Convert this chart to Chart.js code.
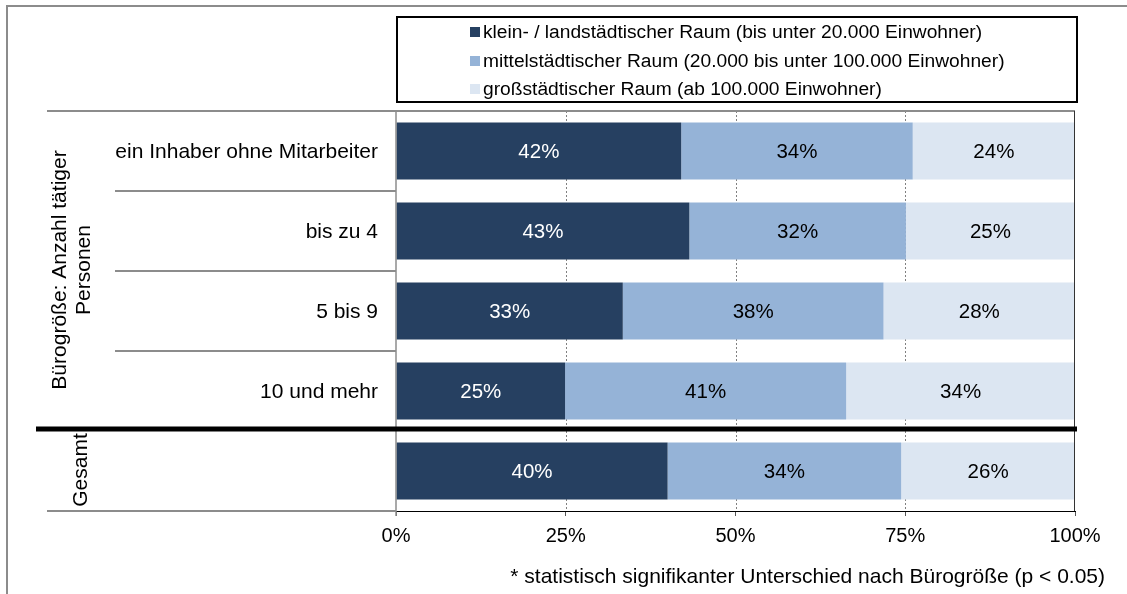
<!DOCTYPE html>
<html>
<head>
<meta charset="utf-8">
<script src="https://cdn.jsdelivr.net/npm/chart.js@4/dist/chart.umd.min.js"></script>
<style>
  html, body { margin: 0; padding: 0; background: #fff; }
  #wrap { width: 1127px; height: 594px; }
</style>
</head>
<body>
<div id="wrap"><canvas id="chart" width="1127" height="594"></canvas></div>
<script>
const categories = ['ein Inhaber ohne Mitarbeiter', 'bis zu 4', '5 bis 9', '10 und mehr', ''];
const seriesNames = [
  'klein- / landstädtischer Raum (bis unter 20.000 Einwohner)',
  'mittelstädtischer Raum (20.000 bis unter 100.000 Einwohner)',
  'großstädtischer Raum (ab 100.000 Einwohner)'
];
const smallTown = [42.0, 43.2, 33.4, 24.9, 40.0];
const midTown = [34.1, 31.9, 38.4, 41.4, 34.4];
const bigCity = [23.9, 24.9, 28.2, 33.7, 25.6];
const xTicks = [0, 25, 50, 75, 100];
const groupTitle = ['Bürogröße: Anzahl tätiger', 'Personen'];
const totalTitle = 'Gesamt';
const footnote = '* statistisch signifikanter Unterschied nach Bürogröße (p < 0.05)';

const colors = ['#264061', '#95b3d7', '#dce6f2'];
const labelColors = ['#ffffff', '#000000', '#000000'];
const FONT = '"Liberation Sans", Arial, sans-serif';

// grid lines, borders, legend, labels
const decor = {
  id: 'decor',
  beforeDatasetsDraw(chart) {
    const ctx = chart.ctx, x = chart.scales.x, a = chart.chartArea;
    ctx.save();
    ctx.strokeStyle = '#808080';
    ctx.lineWidth = 1;
    ctx.setLineDash([2, 2]);
    [25, 50, 75].forEach(v => {
      const px = Math.round(x.getPixelForValue(v)) + 0.5;
      ctx.beginPath(); ctx.moveTo(px, a.top); ctx.lineTo(px, a.bottom); ctx.stroke();
    });
    ctx.restore();
  },
  afterDraw(chart) {
    const ctx = chart.ctx, x = chart.scales.x, y = chart.scales.y, a = chart.chartArea;
    ctx.save();

    // outer frame (left + top)
    ctx.strokeStyle = '#8c8c8c';
    ctx.lineWidth = 2;
    ctx.beginPath(); ctx.moveTo(7, 594); ctx.lineTo(7, 6); ctx.lineTo(1127, 6); ctx.stroke();

    // category separators
    const rowH = y.getPixelForValue(1) - y.getPixelForValue(0);
    ctx.strokeStyle = '#8c8c8c';
    ctx.lineWidth = 2;
    ctx.beginPath();
    ctx.moveTo(47, a.top); ctx.lineTo(a.right, a.top);
    for (let i = 1; i < 4; i++) {
      const py = y.getPixelForValue(i) - rowH / 2;
      ctx.moveTo(115, py); ctx.lineTo(a.left, py);
    }
    ctx.moveTo(47, a.bottom); ctx.lineTo(a.left, a.bottom);
    ctx.stroke();

    ctx.lineWidth = 1.5;
    ctx.beginPath(); ctx.moveTo(a.left, a.top); ctx.lineTo(a.left, a.bottom + 5); ctx.stroke();

    ctx.strokeStyle = '#333';
    ctx.lineWidth = 1;
    const rx = Math.round(a.right) - 0.5;
    ctx.beginPath(); ctx.moveTo(rx, a.top); ctx.lineTo(rx, a.bottom); ctx.stroke();

    // thick line before Gesamt
    const sepY = y.getPixelForValue(4) - rowH / 2 - 2;
    ctx.strokeStyle = '#000';
    ctx.lineWidth = 5;
    ctx.beginPath(); ctx.moveTo(36, sepY); ctx.lineTo(a.right + 2, sepY); ctx.stroke();

    // category labels
    ctx.fillStyle = '#000';
    ctx.font = '21px ' + FONT;
    ctx.textAlign = 'right';
    ctx.textBaseline = 'middle';
    categories.forEach((c, i) => ctx.fillText(c, 378, y.getPixelForValue(i) + 1));

    // rotated group titles
    const gMid = (a.top + sepY) / 2;
    ctx.textAlign = 'center';
    ctx.save();
    ctx.translate(60, gMid); ctx.rotate(-Math.PI / 2);
    ctx.fillText(groupTitle[0], 0, 0);
    ctx.restore();
    ctx.save();
    ctx.translate(84, gMid); ctx.rotate(-Math.PI / 2);
    ctx.fillText(groupTitle[1], 0, 0);
    ctx.restore();
    ctx.save();
    ctx.translate(81, (sepY + a.bottom) / 2); ctx.rotate(-Math.PI / 2);
    ctx.fillText(totalTitle, 0, 0);
    ctx.restore();

    // value labels
    ctx.font = '20.5px ' + FONT;
    ctx.textAlign = 'center';
    chart.data.datasets.forEach((ds, di) => {
      const meta = chart.getDatasetMeta(di);
      ctx.fillStyle = labelColors[di];
      meta.data.forEach((bar, i) => {
        const cx = (bar.x + bar.base) / 2;
        ctx.fillText(Math.round(ds.data[i]) + '%', cx, bar.y + 1);
      });
    });

    // legend
    ctx.strokeStyle = '#000';
    ctx.lineWidth = 2;
    ctx.strokeRect(397, 17, 680, 85);
    ctx.font = '19.2px ' + FONT;
    ctx.textAlign = 'left';
    const rows = [32, 61, 89];
    chart.data.datasets.forEach((ds, di) => {
      ctx.fillStyle = colors[di];
      ctx.fillRect(470, rows[di] - 5, 10, 10);
      ctx.fillStyle = '#000';
      ctx.fillText(ds.label, 483, rows[di] + 1);
    });

    // footnote
    ctx.font = '21px ' + FONT;
    ctx.textAlign = 'right';
    ctx.fillText(footnote, 1105, 577);
    ctx.restore();
  }
};

new Chart(document.getElementById('chart'), {
  type: 'bar',
  data: {
    labels: categories,
    datasets: [
      { label: seriesNames[0], data: smallTown, backgroundColor: colors[0] },
      { label: seriesNames[1], data: midTown, backgroundColor: colors[1] },
      { label: seriesNames[2], data: bigCity, backgroundColor: colors[2] }
    ]
  },
  options: {
    indexAxis: 'y',
    responsive: false,
    devicePixelRatio: 1,
    animation: false,
    categoryPercentage: 1,
    barPercentage: 0.71,
    layout: { padding: { left: 396, right: 52, top: 111, bottom: 0 } },
    plugins: { legend: { display: false }, tooltip: { enabled: false } },
    scales: {
      y: { stacked: true, display: false },
      x: {
        stacked: true,
        min: 0,
        max: 100,
        afterBuildTicks: s => { s.ticks = xTicks.map(v => ({ value: v })); },
        afterFit: s => { s.height = 83; },
        border: { color: '#000', width: 1 },
        grid: { drawOnChartArea: false, drawTicks: true, tickLength: 5, color: '#555' },
        ticks: {
          padding: 8,
          color: '#000',
          font: { size: 20, family: FONT },
          maxRotation: 0,
          callback: v => v + '%'
        }
      }
    }
  },
  plugins: [decor]
});
</script>
</body>
</html>
